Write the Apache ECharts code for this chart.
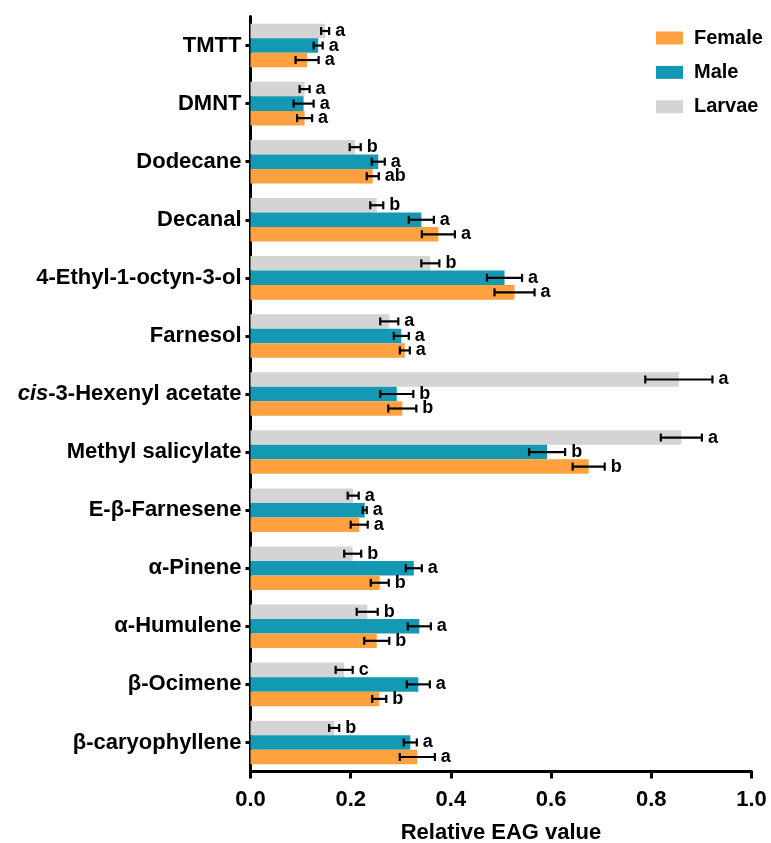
<!DOCTYPE html>
<html>
<head>
<meta charset="utf-8">
<title>Relative EAG responses</title>
<script src="https://cdn.jsdelivr.net/npm/echarts@6/dist/echarts.min.js"></script>
<style>
  html, body { margin: 0; padding: 0; background: #ffffff; }
  #chart { width: 771px; height: 843px; }
</style>
</head>
<body>
<div id="chart"></div>
<script>
// Compounds, listed top to bottom
const categories = [
  'TMTT', 'DMNT', 'Dodecane', 'Decanal', '4-Ethyl-1-octyn-3-ol', 'Farnesol',
  'cis-3-Hexenyl acetate', 'Methyl salicylate', 'E-β-Farnesene', 'α-Pinene',
  'α-Humulene', 'β-Ocimene', 'β-caryophyllene'
];

// Mean relative EAG values, standard errors and significance letters
const femaleMean = [0.113, 0.108, 0.244, 0.375, 0.527, 0.308, 0.303, 0.675, 0.217, 0.258, 0.252, 0.257, 0.333];
const femaleErr  = [0.023, 0.015, 0.012, 0.033, 0.040, 0.010, 0.028, 0.032, 0.017, 0.018, 0.025, 0.014, 0.035];
const femaleLetters = ['a', 'a', 'ab', 'a', 'a', 'a', 'b', 'b', 'a', 'b', 'b', 'b', 'a'];

const maleMean = [0.135, 0.106, 0.255, 0.341, 0.507, 0.301, 0.292, 0.592, 0.228, 0.326, 0.337, 0.335, 0.319];
const maleErr  = [0.009, 0.020, 0.013, 0.025, 0.035, 0.015, 0.033, 0.036, 0.004, 0.016, 0.023, 0.023, 0.013];
const maleLetters = ['a', 'a', 'a', 'a', 'a', 'a', 'b', 'b', 'a', 'a', 'a', 'a', 'a'];

const larvaeMean = [0.149, 0.108, 0.209, 0.252, 0.359, 0.277, 0.855, 0.860, 0.205, 0.204, 0.233, 0.187, 0.167];
const larvaeErr  = [0.008, 0.010, 0.011, 0.013, 0.018, 0.018, 0.067, 0.041, 0.011, 0.017, 0.021, 0.017, 0.010];
const larvaeLetters = ['a', 'a', 'b', 'b', 'b', 'a', 'a', 'a', 'a', 'b', 'b', 'c', 'b'];

// x axis tick values
const xTicks = [0.0, 0.2, 0.4, 0.6, 0.8, 1.0];

const FONT = '"Liberation Sans", Arial, Helvetica, sans-serif';
const COLORS = { Female: '#FFA13F', Male: '#1399B3', Larvae: '#D4D4D4' };
const CATEGORY_GAP = 0.25; // fraction of each band left empty

// Error bar + letter for one group; slot 0 = top bar in the band
function errorSeries(mean, err, letters, slot) {
  return {
    type: 'custom',
    silent: true,
    z: 10,
    data: categories.map((c, i) => [mean[i] - err[i], mean[i] + err[i], i]),
    encode: { x: [0, 1], y: 2 },
    renderItem(params, api) {
      const idx = api.value(2);
      const lo = api.coord([api.value(0), idx]);
      const hi = api.coord([api.value(1), idx]);
      const band = api.size([0, 1])[1];
      const barH = band * (1 - CATEGORY_GAP) / 3;
      const y = lo[1] + (slot - 1) * barH;
      const cap = 4;
      const lineStyle = { stroke: '#000', lineWidth: 2.2 };
      return {
        type: 'group',
        children: [
          { type: 'line', shape: { x1: lo[0], y1: y, x2: hi[0], y2: y }, style: lineStyle },
          { type: 'line', shape: { x1: lo[0], y1: y - cap, x2: lo[0], y2: y + cap }, style: lineStyle },
          { type: 'line', shape: { x1: hi[0], y1: y - cap, x2: hi[0], y2: y + cap }, style: lineStyle },
          {
            type: 'text',
            x: hi[0] + 6,
            y: y,
            style: {
              text: letters[params.dataIndex],
              fill: '#000',
              font: 'bold 18px ' + FONT,
              textAlign: 'left',
              textVerticalAlign: 'middle'
            }
          }
        ]
      };
    }
  };
}

function barSeries(name, values) {
  return {
    name: name,
    type: 'bar',
    data: values,
    barGap: '0%',
    barCategoryGap: (CATEGORY_GAP * 100) + '%',
    itemStyle: { color: COLORS[name] },
    emphasis: { disabled: true },
    animation: false
  };
}

const chart = echarts.init(document.getElementById('chart'), null, { renderer: 'canvas' });

chart.setOption({
  animation: false,
  backgroundColor: '#ffffff',
  textStyle: { fontFamily: FONT },
  grid: {
    left: 250.5, right: 19.5, top: 16.5, bottom: 71.5,
    containLabel: false,
    outerBoundsMode: 'none'
  },
  legend: {
    data: ['Female', 'Male', 'Larvae'],
    orient: 'vertical',
    left: 651,
    top: 23,
    itemWidth: 27,
    itemHeight: 13,
    itemGap: 14.4,
    icon: 'rect',
    selectedMode: false,
    textStyle: {
      fontFamily: FONT, fontSize: 20, fontWeight: 'bold', color: '#000',
      padding: [0, 0, 0, 6]
    }
  },
  xAxis: {
    type: 'value',
    min: 0,
    max: 1,
    interval: 0.2,
    name: 'Relative EAG value',
    nameLocation: 'middle',
    nameGap: 50,
    nameTextStyle: { fontFamily: FONT, fontSize: 22, fontWeight: 'bold', color: '#000' },
    axisLine: { show: true, lineStyle: { color: '#000', width: 3 } },
    axisTick: { show: true, length: 7, lineStyle: { color: '#000', width: 3 } },
    axisLabel: {
      margin: 17,
      fontFamily: FONT, fontSize: 22, fontWeight: 'bold', color: '#000',
      formatter: v => {
        const t = xTicks.find(x => Math.abs(x - v) < 1e-9);
        return t === undefined ? '' : t.toFixed(1);
      }
    },
    splitLine: { show: false }
  },
  yAxis: {
    type: 'category',
    data: categories,
    inverse: true,
    axisLine: { show: true, lineStyle: { color: '#000', width: 3 } },
    axisTick: { show: true, alignWithLabel: true, length: 5, lineStyle: { color: '#000', width: 3 } },
    axisLabel: {
      margin: 9,
      fontFamily: FONT, fontSize: 22, fontWeight: 'bold', color: '#000',
      formatter: v => v.indexOf('cis-') === 0 ? '{i|cis}' + v.slice(3) : v,
      rich: {
        i: { fontFamily: FONT, fontSize: 22, fontWeight: 'bold', fontStyle: 'italic', color: '#000' }
      }
    },
    splitLine: { show: false }
  },
  series: [
    barSeries('Larvae', larvaeMean),
    barSeries('Male', maleMean),
    barSeries('Female', femaleMean),
    errorSeries(larvaeMean, larvaeErr, larvaeLetters, 0),
    errorSeries(maleMean, maleErr, maleLetters, 1),
    errorSeries(femaleMean, femaleErr, femaleLetters, 2)
  ]
});
</script>
</body>
</html>
